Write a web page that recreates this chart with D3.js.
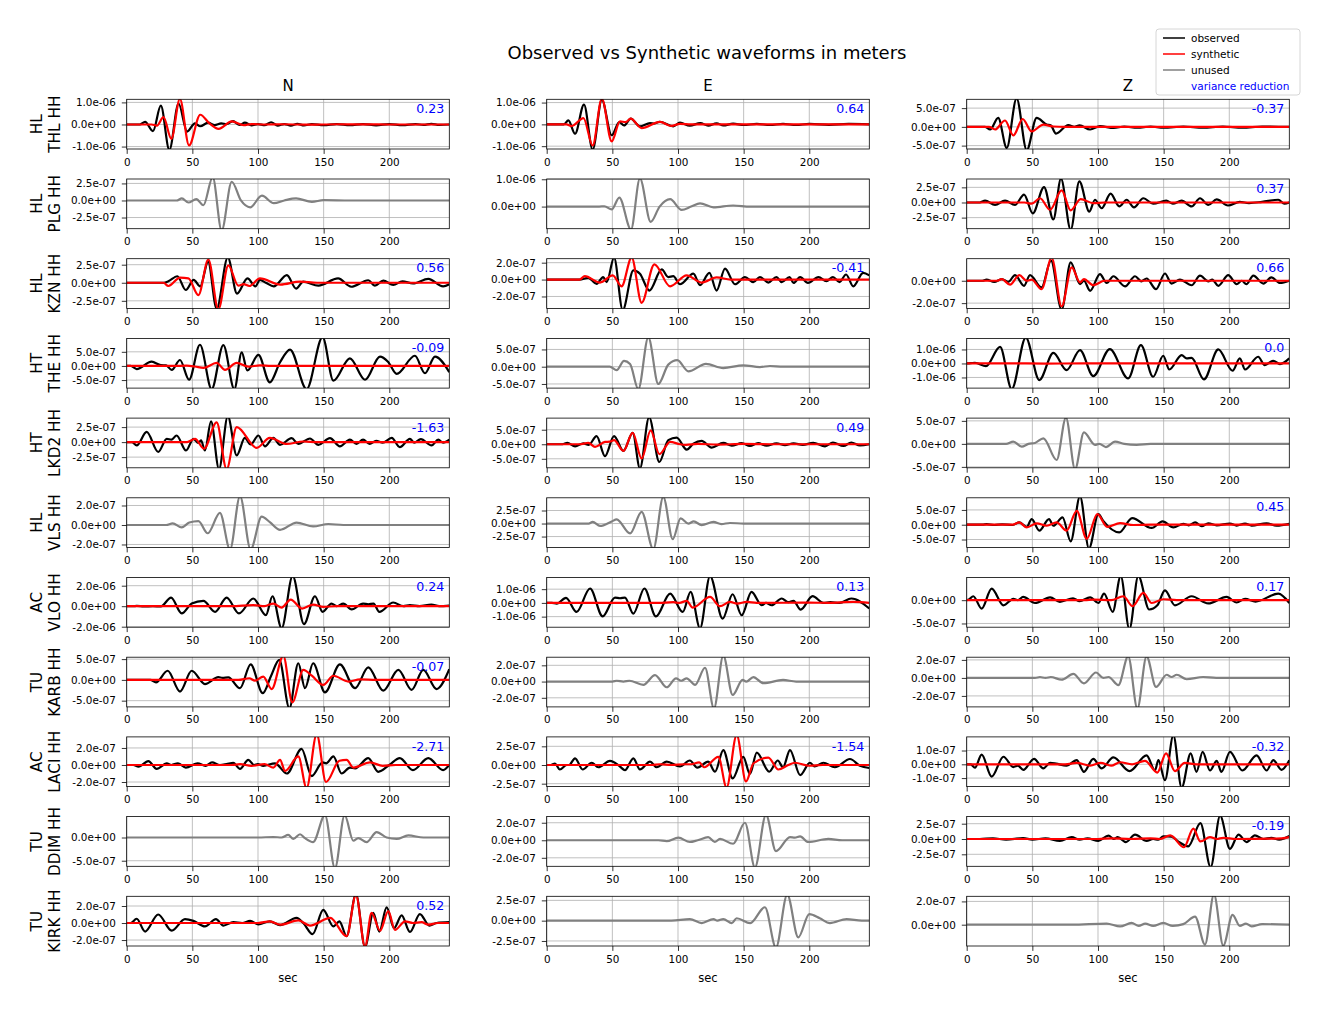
<!DOCTYPE html>
<html><head><meta charset="utf-8">
<script src="https://cdn.jsdelivr.net/npm/d3@7"></script>
<style>body{margin:0;background:#fff}svg{display:block}text{font-family:"DejaVu Sans",sans-serif}</style>
</head><body><svg id="c" width="1329" height="1014"></svg>
<script>
// values are in units of 1e-7 m
const UNIT = 1e-7;
const components = ["N","E","Z"];
const networks = ["HL","HL","HL","HT","HT","HL","AC","TU","AC","TU","TU"];
const stationCodes = ["THL","PLG","KZN","THE","LKD2","VLS","VLO","KARB","LACI","DDIM","KIRK"];
const channel = "HH";
const xTicks = [0,50,100,150,200];
const xMax = 245.7;
const used = [[1,1,1],[0,0,1],[1,1,1],[1,0,1],[1,1,0],[0,0,1],[1,1,1],[1,0,0],[1,1,1],[0,0,1],[1,0,0]];
const varianceReduction = [["0.23","0.64","-0.37"],[null,null,"0.37"],["0.56","-0.41","0.66"],["-0.09",null,"0.0"],["-1.63","0.49",null],[null,null,"0.45"],["0.24","0.13","0.17"],["-0.07",null,null],["-2.71","-1.54","-0.32"],[null,null,"-0.19"],["0.52",null,null]];
const yDomains = [
 [[-11.1,11.4],[-11.3,11.5],[-5.9,7.35]],
 [[-4.14,3.15],[-8.1,10.1],[-4.33,3.88]],
 [[-3.55,3.33],[-3.41,2.47],[-2.47,1.97]],
 [[-7.85,9.75],[-6.2,8.2],[-17.6,17.9]],
 [[-4.28,4.0],[-8.1,9.0],[-5.2,5.6]],
 [[-2.31,2.79],[-4.6,4.94],[-7.7,9.1]],
 [[-20.5,28],[-17.7,18.5],[-5.8,4.87]],
 [[-6.5,5.46],[-3.12,3.0],[-3.22,2.3]],
 [[-2.54,3.3],[-2.89,3.76],[-1.62,1.99]],
 [[-6.2,4.5],[-2.97,2.7],[-4.46,3.66]],
 [[-2.7,3.14],[-3.12,3.0],[-1.83,2.44]]];
const yTicks = [
 [[-10,0,10],[-10,0,10],[-5,0,5]],
 [[-2.5,0,2.5],[0,10],[-2.5,0,2.5]],
 [[-2.5,0,2.5],[-2,0,2],[-2,0]],
 [[-5,0,5],[-5,0,5],[-10,0,10]],
 [[-2.5,0,2.5],[-5,0,5],[-5,0,5]],
 [[-2,0,2],[-2.5,0,2.5],[-5,0,5]],
 [[-20,0,20],[-10,0,10],[-5,0]],
 [[-5,0,5],[-2,0,2],[-2,0,2]],
 [[-2,0,2],[-2.5,0,2.5],[-1,0,1]],
 [[-5,0],[-2,0,2],[-2.5,0,2.5]],
 [[-2,0,2],[-2.5,0,2.5],[0,2]]];

// ---- THL
const obs_THL_N = [[0,0],[10,0],[14,1.2],[20,-3],[26,8.5],[32.5,-11.5],[39.5,9.5],[46,-3.2],[52,0.5],[56,-0.8],[62,0.8],[67,-0.3],[72,0.5],[76,0.2],[81,1.5],[86,-0.2],[90,0.8],[95,-0.4],[100,0.2],[105,-0.3],[110,1],[115,-0.5],[120,0.2],[125,-0.5],[130,0.3],[135,-0.4],[141,0.2],[150,-0.3],[160,0.2],[170,-0.3],[180,0.2],[190,-0.4],[200,0.2],[210,-0.3],[220,0.2],[226,-0.2],[232,0.3],[238,-0.2],[245.7,0]];
const syn_THL_N = [[0,0],[19,0],[23,-0.5],[28,3.3],[34,-6.5],[40.5,11.6],[47.5,-9.5],[56,4.4],[63,0.5],[70,-2],[80,1.4],[89,-0.3],[95,0.2],[105,0],[120,0.1],[140,-0.1],[160,0.1],[200,0],[245.7,0]];
const obs_THL_E = [[0,0],[13,0],[16.5,1.8],[21.6,-4.3],[28.4,9.1],[35,-11.6],[42,11.2],[49.5,-5],[55.3,1],[58.9,-0.5],[64,2.6],[71,-0.9],[78.7,0.6],[82,0.4],[86,1.2],[96.4,-0.9],[101.5,0.8],[109,-0.6],[117,0.6],[123,-0.6],[129.4,0.5],[134.5,-0.5],[142,0.3],[150,-0.3],[160,0.2],[170,-0.3],[180,0.2],[190,-0.3],[200,0.2],[215,-0.2],[230,0.2],[245.7,0]];
const syn_THL_E = [[0,0],[15,0],[19,-0.8],[28,2.9],[35,-9.7],[42,11.8],[49.5,-7.8],[55.8,1.4],[60,1.0],[64,2.6],[72.3,-1.7],[86.3,1.1],[95,-0.7],[101.5,0.2],[110,0],[245.7,0]];
const obs_THL_Z = [[0,0],[14,0],[17.8,-0.7],[24,2.4],[30.5,-5.6],[38,7.6],[45.7,-6.2],[53.3,2.4],[61,0.6],[64,0.4],[68,-1.8],[77.4,0.5],[82,0],[86,0.4],[94,-0.7],[101.5,0.2],[112,-0.3],[120,0.1],[130,-0.2],[140,0.1],[150,-0.2],[165,0.1],[180,-0.2],[195,0.1],[210,-0.2],[225,0.1],[245.7,0]];
const syn_THL_Z = [[0,0],[17,0],[21.6,-0.7],[29.2,1.7],[35.5,-2.3],[42.6,2.1],[49.5,-1.2],[58.4,0.6],[66,0.1],[75,0],[245.7,0]];
// ---- PLG
const gray_PLG_N = [[0,0],[38,0],[42,0.3],[47,-0.3],[53,0.2],[58.4,-0.7],[65.5,3.4],[72.3,-4.4],[80,2.75],[87,0],[94,-1.0],[103,0.7],[112,-0.4],[120,0],[129,0.3],[141,-0.2],[150,0.05],[170,0],[245.7,0]];
const gray_PLG_E = [[0,0],[40,0],[44,0.1],[49.5,-1.0],[55.3,3.3],[64.2,-8.4],[71,10.3],[79.2,-5.6],[86,0],[94,2.7],[102.8,-1.2],[110,0],[116.8,1.2],[127,-0.3],[142,0.4],[155,0],[245.7,0]];
const obs_PLG_Z = [[0,0],[10,0],[14,0.3],[21.6,-0.4],[29.2,0.3],[36.8,-0.4],[43.7,1.3],[50.3,-1.8],[58.9,2.55],[66,-2.8],[71.8,3.95],[79.2,-4.5],[85.8,3.5],[93.4,-1.5],[97.7,0.45],[102.8,-0.95],[109.6,1.45],[116.2,-0.65],[121.8,0.45],[127.4,-0.8],[134.5,0.7],[142,-0.2],[152,0.3],[157,-0.2],[163.7,0.3],[171.3,-0.65],[177.7,0.7],[184,-0.4],[190.4,0.5],[199,-0.5],[208,0.1],[215,-0.1],[225,0.1],[237.3,0.45],[242,-0.2],[245.7,0]];
const syn_PLG_Z = [[0,0],[44,0],[49.5,-0.2],[55.8,0.7],[63.5,-1.2],[72.3,2.0],[79.2,-1.3],[86.8,0.55],[96.4,-0.1],[105,0],[245.7,0]];
// ---- KZN
const obs_KZN_N = [[0,0],[28,0],[31.7,0.2],[38.6,0.9],[45,-1.0],[51,0.4],[56,-0.5],[62,2.9],[68.5,-3.6],[77,3.5],[84,-1.5],[92,0.6],[98,-0.5],[101.5,0.4],[106,0],[112,-0.5],[122,1.05],[129,-0.8],[134.5,0.15],[146,-0.4],[161,0.6],[171,-0.55],[184,0.35],[189,-0.4],[195.4,0.3],[203,-0.3],[210,0.2],[218,-0.1],[229.7,0.55],[241,-0.5],[245.7,-0.2]];
const syn_KZN_N = [[0,0],[28,0],[31.7,-0.45],[40.6,0.7],[47,0.6],[54.6,-1.7],[62.2,3.2],[69.8,-3.7],[77.4,2.4],[85,-0.4],[89,-0.2],[93.4,-0.45],[101.5,0.6],[117,-0.25],[132,0.15],[145,0],[245.7,0]];
const obs_KZN_E = [[0,0],[25,0],[31.7,0.2],[38,-0.5],[43,0.3],[45.7,-0.3],[51.3,2.6],[57.9,-3.6],[66,1.1],[71,0.7],[78.2,-1.3],[87.6,1.2],[92.6,0.3],[96.4,0.4],[101.5,-0.55],[111.7,0.7],[116.8,-0.65],[123.9,0.8],[129.4,-1.3],[135.8,1.3],[143.4,-0.55],[151,0.3],[157.4,-0.3],[162.4,0.3],[168.8,-0.35],[175,0.3],[179,-0.3],[185,0.3],[188,-0.4],[193,0.3],[199,-0.4],[207,0.3],[213,-0.2],[218,0.3],[223,-0.3],[228,0.6],[233.5,-0.8],[241,0.8],[245.7,0.5]];
const syn_KZN_E = [[0,0],[25,0],[29,0.4],[40.6,-0.35],[50.3,0.5],[57,-0.8],[64.7,2.6],[72.3,-2.75],[82,1.8],[94,-0.8],[106.6,0.5],[118,-0.35],[129.4,0.25],[140,0],[245.7,0]];
const obs_KZN_Z = [[0,0],[12,0],[15,0.1],[21,-0.1],[26.7,0.15],[31.7,-0.1],[36.8,0.5],[43.7,-0.45],[48.2,0.5],[57,-0.6],[64.2,1.8],[72.3,-2.6],[79.2,1.65],[86.3,-0.3],[89.3,0],[94,-0.9],[101.5,0.6],[106.6,-0.2],[111.7,0.4],[120.6,-0.5],[128.2,0.4],[133,-0.05],[137,0.2],[144.2,-0.75],[151,0.65],[156,-0.25],[162.4,0.1],[171.3,-0.4],[177.7,0.45],[184,-0.05],[187,0.1],[191.6,-0.45],[199.2,0.5],[205.6,-0.3],[209.5,0],[213,-0.3],[218.3,0.45],[226,-0.25],[232,0.3],[238.6,-0.2],[245.7,0]];
const syn_KZN_Z = [[0,0],[23,0],[26.7,0.15],[33,-0.35],[40.1,0.5],[45.7,0],[49.5,0.1],[57,-0.75],[64.7,2.05],[72.3,-2.3],[80,1.2],[86.3,-0.15],[89.3,0.15],[96.4,-0.4],[105,0],[245.7,0]];
// ---- THE
const obs_THE_N = [[0,0],[3,0],[7.6,-1.1],[19,1.5],[26,0.3],[30,0.2],[34.3,-1.4],[40.6,2.1],[47.5,-4.9],[55.8,7.5],[64.7,-8.2],[73.6,7.4],[82,-8.2],[87.6,4.8],[91.9,-1.6],[100.3,3.9],[109,-5.8],[116.8,1.3],[124.4,5.8],[137,-8.2],[149.2,10.2],[157.4,-5.2],[170,2.7],[181.5,-4.9],[192.9,3.3],[199,1.5],[205.6,-2.8],[219.5,3.6],[227.2,-2.6],[234.8,3.3],[245.7,-2.2]];
const syn_THE_N = [[0,0],[35,0],[45.7,0.1],[52,-0.2],[58.4,-0.7],[68.5,1.05],[74.9,-1.4],[83.8,1.05],[92.6,-0.25],[101.5,0.2],[110,0],[245.7,0]];
const gray_THE_E = [[0,0],[48,0],[53.3,-1],[58.9,1.7],[63.5,0.8],[69.8,-6.5],[77.4,8.5],[85,-5],[92.6,0.6],[99.5,1.9],[107.9,-1.35],[121.3,0.8],[134.5,-0.4],[149.7,0.4],[162.4,-0.1],[170,0.2],[180,0],[245.7,0]];
const obs_THE_Z = [[0,0],[3,0.2],[6.3,0.5],[14.7,-1.9],[25.4,11.9],[34.3,-18.3],[45,18.5],[55.3,-11.9],[66,7.6],[76.1,-4.8],[86.3,9.5],[96.4,-9],[109,10.2],[123,-10.7],[132.7,13.1],[142,-9.5],[149.7,5.5],[154.3,-4.3],[163.7,6],[167.5,3.6],[171.3,4],[180.7,-11.4],[191.6,10],[202.5,-5.2],[208,3.6],[212,-4.3],[222,4.8],[227,-1.2],[233.5,1.9],[238.6,-0.5],[245.7,3.6]];
const syn_THE_Z = [[0,0],[30,0.1],[60,-0.1],[90,0.1],[120,0],[150,0.1],[200,0],[245.7,0]];
// ---- LKD2
const obs_LKD2_N = [[0,0],[4,0],[7.6,-0.55],[15.2,1.7],[24,-1.65],[30.5,0.55],[34,0.4],[38,1.1],[45.2,-1.4],[50.8,0.55],[54.6,-0.15],[56.6,0.3],[59.6,-1.4],[64.2,3.45],[70.3,-4.5],[77,4.3],[83.8,-2.2],[90,0.7],[94.4,-0.4],[100.3,1.1],[105.3,-0.7],[111.7,0.7],[116.8,-0.45],[125.6,0.65],[130.7,-0.3],[139.6,0.6],[146,-0.45],[154.8,0.65],[162.4,-0.7],[170,0.4],[175,-0.3],[180,0.4],[185,-0.3],[190,0.2],[195,-0.1],[201.8,0.7],[208,-0.85],[215.7,0.55],[219,-0.1],[224,0.5],[232.2,-0.55],[237.3,0.4],[241,-0.1],[245.7,0.4]];
const syn_LKD2_N = [[0,0],[46,0],[52,0.55],[58.9,-1.1],[68.5,3.3],[76.1,-4.5],[83.8,2.5],[99,-0.95],[109,0.7],[121.8,-0.3],[134.5,0.1],[145,0],[245.7,0]];
const obs_LKD2_E = [[0,0],[12,0],[15.7,0.45],[21.6,-0.7],[28,0.3],[32,-0.2],[38,2.8],[44.4,-4.1],[51.3,2.8],[58.4,-2.3],[65.5,3.9],[71,-8.3],[78,9.3],[85.8,-6.1],[92.6,1.4],[99,2.3],[106.6,-1.85],[111.7,0.2],[118,1.15],[125.6,-1.15],[134.5,0.45],[140.9,-0.5],[148.5,0.4],[154.8,-0.6],[161,0.4],[167.5,-0.5],[175,0.3],[181.5,-0.3],[188,0.3],[195,-0.2],[203,0.5],[212,-0.7],[218,0.6],[226,-0.6],[232,0.6],[238.6,-0.4],[245.7,0]];
const syn_LKD2_E = [[0,0],[25,0],[31.7,0.45],[36.8,-0.9],[44.4,0.8],[48,0.9],[51.3,1.4],[58.4,-2.3],[65.5,3.9],[72.3,-4.9],[79.2,4.8],[85.8,-3.4],[94,0.8],[101.5,0],[106,-0.2],[115,0.1],[130,-0.1],[150,0.1],[170,0],[245.7,0]];
const gray_LKD2_Z = [[0,0],[30,0],[35.5,0.5],[41.9,-0.6],[47,0],[52,0.2],[58.4,1.2],[68.5,-3.5],[75.6,5.7],[82.5,-5.5],[89.3,2.5],[97.7,-0.2],[101,0],[106,-0.7],[113,0.5],[120,0],[129.4,-0.2],[140,0],[245.7,0]];
// ---- VLS
const gray_VLS_N = [[0,0],[30,0],[35,0.17],[41.9,-0.25],[47.7,0.25],[54.6,0.4],[61.7,-0.85],[71,1.25],[78.7,-2.5],[86.3,2.95],[94.4,-2.5],[102.8,0.85],[109,0.3],[116.8,-0.5],[129.4,0.25],[142,-0.15],[153.6,0.1],[165,0],[245.7,0]];
const gray_VLS_E = [[0,0],[32,0],[35,0.3],[40.6,-0.45],[49.5,0.4],[53.3,0.8],[63.5,-1.9],[72.3,2.25],[81.2,-4.9],[88.8,5.1],[96,-3.0],[102,1.0],[107.9,0],[112,0.4],[118,-0.3],[127,0.3],[133,-0.1],[139.6,0.1],[150,0],[245.7,0]];
const obs_VLS_Z = [[0,0],[12,0],[15.2,0.2],[21,-0.1],[27,0.15],[35,-0.1],[40,0.8],[45.7,-0.7],[49.5,1.9],[55.3,-2.0],[62.7,1.9],[66,-0.35],[73,2.5],[79.2,-5.6],[86.3,9.6],[93.1,-8.0],[100.3,3.6],[104,1.3],[116.2,-2.6],[126,2.25],[140.9,-1.1],[149.2,1.1],[157.4,-0.9],[165,0.3],[169,-0.2],[174,0.8],[179,-0.5],[184,0.5],[190.4,-0.2],[200.5,0.4],[205.6,-0.3],[212,0.4],[217,-0.3],[228.4,0.5],[236,-0.3],[245.7,0.3]];
const syn_VLS_Z = [[0,0],[35,0],[40,0.8],[45.7,-0.9],[53.3,0.45],[61,-0.35],[68.5,0.8],[76.1,-2],[83.8,4.7],[91.4,-4.8],[99.5,3.6],[107,-0.7],[116.8,0.55],[127,-0.1],[140,0],[245.7,0]];
// ---- VLO
const obs_VLO_N = [[0,0],[5,0],[7.6,0.3],[13,-0.3],[20,0],[26,-0.3],[33.8,8.4],[41.9,-7.1],[49.5,2.6],[58.4,5.2],[67.3,-5.5],[76.1,8.4],[85.5,-7.1],[96.4,7.5],[106,-8.8],[111,9.7],[118,-21.5],[126.4,29.5],[135,-17.5],[143.4,9.7],[149.2,-5.5],[156,2.6],[160,0],[165,2.6],[171.3,-3.2],[180,2.6],[184,1.8],[188,2.6],[192.4,-5.5],[203,3.6],[210.7,0],[215.7,1],[223,0],[232,1.5],[238,0],[245.7,0.5]];
const syn_VLO_N = [[0,0],[80,0],[96.4,1],[105,0],[111.7,2.6],[118,-1.3],[124.9,6.5],[133.5,-2.3],[142,1.6],[149.7,-0.6],[160,0],[245.7,0]];
const obs_VLO_E = [[0,0],[4,0],[7.6,-0.5],[14.7,3.7],[22.8,-6.6],[33,10.5],[42.6,-9.8],[52,3.9],[55.8,3.4],[59.6,3.9],[66,-7.8],[74.4,10.5],[83.2,-9.8],[94,6.8],[103.6,-6.6],[109.6,8],[116.8,-18.5],[124.4,19.5],[134,-11.5],[141.6,6.3],[148.5,-9],[156,8],[163.7,-1.7],[167,0],[171.3,-1.7],[179,3.2],[184,0.5],[188,1.5],[193.4,-4.9],[202.5,4.9],[210.7,0],[216,0.5],[223,0],[232,3.2],[245.7,-4.1]];
const syn_VLO_E = [[0,0],[85,0],[96.4,0.5],[101,0],[106.6,1.5],[111.2,-3.4],[124.4,4.4],[131.9,-2.4],[139.6,0.7],[145,-0.5],[152.3,0.7],[160,0],[200,0.2],[215,0],[233.5,0.7],[245.7,0]];
const obs_VLO_Z = [[0,0],[2,0.2],[5,0.85],[11.4,-1.8],[19,2.5],[28,-1.1],[35.5,0.3],[39,0],[43,0.7],[52,-0.6],[63.5,0.6],[71,-0.35],[81,0.4],[86,-0.2],[94,0.6],[100.3,-0.6],[104.6,1.4],[111.2,-2.5],[117.3,5.2],[123.9,-6.2],[130.7,5.2],[139,-2.0],[145.2,-1.1],[151,2.1],[158.6,-1.1],[171.3,0.85],[184,-0.7],[198,0.7],[205.6,-0.5],[212,0.3],[220,-0.3],[237.3,1.4],[245.7,-0.6]];
const syn_VLO_Z = [[0,0],[90,0],[96.4,0.1],[110,0],[119.3,0.85],[126.4,-1.3],[134.5,1.55],[140.9,-0.6],[149.7,0.2],[160,0],[245.7,0]];
// ---- KARB
const obs_KARB_N = [[0,0],[18,0],[22.3,-0.6],[31.2,2.2],[40.6,-2.8],[49.5,2.2],[59.6,-1.0],[69.8,0.65],[73,0.5],[77.4,0.6],[86.3,-2.0],[94.4,3.75],[103.6,-3.2],[110,1],[116.2,4.8],[123.9,-6.8],[130.7,4],[135.8,-2],[142,4],[151,-3.0],[162.4,3.75],[173.9,-2.0],[184,3.0],[195.4,-2.6],[206.9,2.4],[217,-2.4],[225.9,2.4],[236,-2.2],[245.7,2.6]];
const syn_KARB_N = [[0,0],[85,0],[93.4,0.4],[97.7,-0.2],[104,0.8],[110.4,-2.2],[119.3,5.8],[126.1,-5.4],[134.5,2.4],[141,1.0],[149.7,-1.2],[157.4,1],[168.8,-0.4],[177.7,0.1],[190,0],[245.7,0]];
const gray_KARB_E = [[0,0],[50,0],[53.3,0.1],[58.4,0],[63,0.1],[73.6,-0.4],[82.5,0.8],[91.4,-0.7],[98.5,0.4],[102.5,0.1],[106.6,0.4],[113,-0.4],[120.6,1.7],[127.4,-3.3],[134.5,3.2],[141.6,-1.65],[149.2,0.2],[152,0],[157.4,0.55],[165,-0.2],[180,0.2],[190,0],[245.7,0]];
const gray_KARB_Z = [[0,0],[52,0],[55.8,0.1],[60,0],[64,0.1],[72.3,-0.2],[81.2,0.45],[89.3,-0.6],[98.5,0.6],[104,0],[108,0.1],[115.5,-0.8],[123,2.4],[130,-3.4],[137,2.4],[144.2,-1.0],[152.3,0.35],[156,0.1],[160,0.35],[167.5,-0.15],[180,0.1],[190,0],[245.7,0]];
// ---- LACI
const obs_LACI_N = [[0,0],[5,0],[9,-0.2],[16.5,0.45],[22.8,-0.45],[30.5,0.2],[34,0],[39,0.2],[45,-0.3],[54,0.2],[60,-0.1],[65,0.3],[71,0],[76,0.1],[81.2,0.25],[86.3,-0.45],[92.6,0.6],[97,0],[100,0.1],[104,-0.1],[113,0.2],[122,-1.0],[133.2,1.9],[140.9,-1.3],[149.2,0.3],[152,0.2],[157.4,1.0],[163.7,-1.0],[170,-0.3],[174,-0.4],[184,0.8],[191.6,-0.8],[200,0],[208,0.8],[218,-0.6],[229.7,0.8],[241,-0.6],[245.7,0]];
const syn_LACI_N = [[0,0],[80,0],[86.3,0.1],[95,-0.1],[105,0.1],[111.7,-0.3],[116.8,0.6],[120.6,-0.7],[130.7,1.0],[137,-2.7],[144.7,3.6],[151.8,-2.0],[162,0.5],[167.5,0.6],[172.6,-0.3],[185.3,0.3],[195,-0.1],[205,0],[245.7,0]];
const obs_LACI_E = [[0,0],[3,0],[6.3,0.2],[10,-0.6],[15.2,0],[17,0],[21.6,0.9],[27.4,-0.6],[34.3,0.3],[39.3,-0.3],[48.2,0.55],[55.8,-0.2],[59.6,-0.7],[66,0.9],[71,-0.6],[78.7,0.45],[83.8,-0.3],[91.4,0.45],[101.5,-0.2],[109,0.6],[114.7,-0.35],[123,0.45],[128.2,-0.9],[134.5,2.0],[141.6,-1.8],[149.7,1.1],[154.8,-1.2],[160,1.65],[169.5,-0.9],[176,0.6],[180,-0.3],[185.3,2.0],[193,-1.35],[200.5,0.3],[204,-0.2],[210.7,0.3],[219.5,-0.3],[231,0.8],[238.6,-0.1],[245.7,-0.4]];
const syn_LACI_E = [[0,0],[80,0],[86.3,0.1],[95,0],[105,0.1],[110,0.1],[116.2,0.35],[120,-0.3],[130.7,1.1],[137,-3.0],[144.7,4.0],[151.8,-2.2],[157.4,0.2],[168.8,1.0],[176.4,-0.6],[184,0],[189,0.3],[200,-0.1],[210,0],[245.7,0]];
const obs_LACI_Z = [[0,0],[3,0],[6.3,-0.25],[11.4,0.7],[19,-0.9],[28,0.55],[35.5,-0.2],[39,-0.1],[43.1,-0.4],[51.3,0.4],[58.4,-0.3],[63.5,0.1],[68,0.05],[76,-0.1],[83.8,0.3],[89.3,-0.55],[96.4,0.4],[102.8,-0.3],[111.7,0.5],[124,-0.5],[137,0.65],[143.4,-0.45],[146,0.3],[151,-1.15],[157.4,2.1],[163.7,-1.7],[170.6,0.8],[175,-0.55],[179.7,0.9],[185.3,-0.45],[190.4,0.25],[194,-0.55],[200.5,0.9],[210,-0.45],[220.8,0.65],[228.4,-0.45],[233.5,0.3],[239.8,-0.4],[245.7,0.3]];
const syn_LACI_Z = [[0,0],[75,0],[83.8,0.1],[94,-0.1],[102,0.1],[110,-0.1],[116.8,0.15],[126,0],[135.8,0.25],[145.2,-0.6],[151.8,0.8],[158.6,-0.5],[166,0.1],[175,0],[245.7,0]];
// ---- DDIM
const gray_DDIM_N = [[0,0],[100,0],[111.7,0.1],[118,0],[123,0.55],[127,-0.3],[132,0.7],[135.8,-0.15],[142,-1.0],[151,4.8],[158.6,-6.6],[166,4.8],[172.6,-0.7],[176.4,-0.15],[182.7,-1.0],[190.4,1.15],[198,0],[205.6,-0.3],[214.5,0.45],[226,0],[245.7,0]];
const gray_DDIM_E = [[0,0],[85,0],[91.4,-0.1],[100.3,0.3],[109,-0.2],[115,0],[123,0.35],[128,-0.2],[132,0.15],[142,-0.4],[151,2.0],[158.6,-3.1],[167,2.9],[174.6,-1.25],[185.3,0.35],[189,0.3],[193,0.45],[199.2,-0.2],[214.5,0.15],[225,0],[245.7,0]];
const obs_DDIM_Z = [[0,0],[10,0],[20,0.1],[30,-0.1],[43,0.15],[50,-0.1],[60,0.1],[71,-0.3],[80,0.3],[86,-0.1],[92,0.1],[100.3,-0.3],[108,0.55],[112,0],[115,0.3],[121.3,-0.5],[128.2,0.7],[137,-0.3],[142,0],[146,-0.1],[149.7,0.45],[156,0.4],[161,-0.4],[168.8,-1.2],[178,2.6],[185.8,-4.6],[193,3.8],[200.5,-1.6],[207,0.7],[213.2,-0.5],[219.5,0.6],[226,0],[232,0.2],[238,-0.1],[245.7,0.5]];
const syn_DDIM_Z = [[0,0],[100,0],[110,0.1],[125,0],[140,0.1],[147,0],[155,0.6],[165.5,-1.35],[172.6,1.7],[178,-0.4],[185.3,0.3],[190.4,0],[195.4,0.2],[205,0],[240,0.1],[245.7,0.3]];
// ---- KIRK
const obs_KIRK_N = [[0,0],[3,0],[7.6,0.5],[14,-1.0],[24,1.0],[34.3,-0.9],[44.4,0.45],[50.8,0.25],[59.6,-0.4],[68,0.45],[73.6,-0.3],[81.2,0.1],[88,0],[94,0.25],[100.3,-0.15],[109,0.2],[116.8,-0.25],[129.4,0.6],[134.5,0],[141.6,-1.3],[149.7,1.55],[157.4,-0.4],[162,0.2],[167.5,-1.55],[174.6,3.4],[181.5,-2.8],[187.8,1.2],[192.4,-1.0],[198,1.85],[203.6,-0.6],[209.4,0.9],[215.7,-1.05],[223.3,1.05],[230.5,-0.3],[236,0],[245.7,0.1]];
const syn_KIRK_N = [[0,0],[100,0],[109,0.2],[116.8,-0.2],[130.7,0.3],[139.6,-0.3],[155,0.6],[167.5,-1.55],[174.6,3.3],[181.5,-2.8],[186.5,1.2],[193,-0.9],[199.2,1.4],[204.3,-0.8],[212,0.2],[218,0],[224.6,0.1],[229.7,-0.2],[237,0],[245.7,0]];
const gray_KIRK_E = [[0,0],[95,0],[109,0.2],[118,-0.3],[127,0.2],[130,0],[134.5,0.2],[141,-0.3],[144.7,0.3],[155,-0.3],[166.2,1.65],[174.6,-3.3],[183.2,3.2],[191.6,-2.05],[200,0.8],[208,0.3],[215.7,-0.3],[228.4,0.2],[240,0],[245.7,0]];
const gray_KIRK_Z = [[0,0],[80,0],[106.6,0.1],[116.8,-0.15],[125.6,0.15],[131,-0.1],[136,0.1],[142,-0.1],[149.7,0.15],[157,-0.1],[165,0.05],[173.9,0.7],[181.5,-1.7],[188.3,2.6],[195.4,-1.8],[202.5,0.85],[208,-0.1],[212.7,0.1],[217,-0.15],[225,0.05],[245.7,0]];

const waveforms = {
 THL_N:[obs_THL_N,syn_THL_N], THL_E:[obs_THL_E,syn_THL_E], THL_Z:[obs_THL_Z,syn_THL_Z],
 PLG_N:[gray_PLG_N], PLG_E:[gray_PLG_E], PLG_Z:[obs_PLG_Z,syn_PLG_Z],
 KZN_N:[obs_KZN_N,syn_KZN_N], KZN_E:[obs_KZN_E,syn_KZN_E], KZN_Z:[obs_KZN_Z,syn_KZN_Z],
 THE_N:[obs_THE_N,syn_THE_N], THE_E:[gray_THE_E], THE_Z:[obs_THE_Z,syn_THE_Z],
 LKD2_N:[obs_LKD2_N,syn_LKD2_N], LKD2_E:[obs_LKD2_E,syn_LKD2_E], LKD2_Z:[gray_LKD2_Z],
 VLS_N:[gray_VLS_N], VLS_E:[gray_VLS_E], VLS_Z:[obs_VLS_Z,syn_VLS_Z],
 VLO_N:[obs_VLO_N,syn_VLO_N], VLO_E:[obs_VLO_E,syn_VLO_E], VLO_Z:[obs_VLO_Z,syn_VLO_Z],
 KARB_N:[obs_KARB_N,syn_KARB_N], KARB_E:[gray_KARB_E], KARB_Z:[gray_KARB_Z],
 LACI_N:[obs_LACI_N,syn_LACI_N], LACI_E:[obs_LACI_E,syn_LACI_E], LACI_Z:[obs_LACI_Z,syn_LACI_Z],
 DDIM_N:[gray_DDIM_N], DDIM_E:[gray_DDIM_E], DDIM_Z:[obs_DDIM_Z,syn_DDIM_Z],
 KIRK_N:[obs_KIRK_N,syn_KIRK_N], KIRK_E:[gray_KIRK_E], KIRK_Z:[gray_KIRK_Z]
};
const legendLabels = ["observed","synthetic","unused","variance reduction"];
const legendColors = ["black","red","gray",null];

// ---- layout
const left0 = 126.7, colStep = 420, panelW = 322.6;
const top0 = 99.3, rowStep = 79.7, panelH = 49.7;
const svg = d3.select("#c");
const fmtExp = v => Math.abs(v) < 1e-20 ? "0.0e+00" :
  v.toExponential(1).replace(/e([+-])(\d+)$/, (m, s, d) => "e" + s + d.padStart(2, "0"));
const x = d3.scaleLinear().domain([0, xMax]).range([0, panelW]);

svg.append("text").attr("x", 707).attr("y", 59).attr("text-anchor", "middle")
  .attr("font-size", 18).text("Observed vs Synthetic waveforms in meters");
components.forEach((c, ci) => {
  svg.append("text").attr("x", left0 + ci * colStep + panelW / 2).attr("y", 91)
    .attr("text-anchor", "middle").attr("font-size", 15).text(c);
  svg.append("text").attr("x", left0 + ci * colStep + panelW / 2).attr("y", 982)
    .attr("text-anchor", "middle").attr("font-size", 11.5).text("sec");
});

stationCodes.forEach((st, r) => {
  const cy = top0 + r * rowStep + panelH / 2;
  svg.append("text").attr("transform", `translate(42,${cy}) rotate(-90)`)
    .attr("text-anchor", "middle").attr("font-size", 15.3).text(networks[r]);
  svg.append("text").attr("transform", `translate(60,${cy}) rotate(-90)`)
    .attr("text-anchor", "middle").attr("font-size", 15.3).text(st + " " + channel);

  components.forEach((comp, c) => {
    const g = svg.append("g").attr("transform", `translate(${left0 + c * colStep},${top0 + r * rowStep})`);
    const y = d3.scaleLinear().domain(yDomains[r][c].map(v => v * UNIT)).range([panelH, 0]);
    const ticksM = yTicks[r][c].map(v => v * UNIT);
    g.append("g").selectAll("line").data(xTicks).join("line")
      .attr("x1", d => x(d)).attr("x2", d => x(d)).attr("y1", 0).attr("y2", panelH)
      .attr("stroke", "#b0b0b0").attr("stroke-width", 0.8);
    g.append("g").selectAll("line").data(ticksM).join("line")
      .attr("y1", d => y(d)).attr("y2", d => y(d)).attr("x1", 0).attr("x2", panelW)
      .attr("stroke", "#b0b0b0").attr("stroke-width", 0.8);
    const id = `clip${r}_${c}`;
    g.append("clipPath").attr("id", id).append("rect").attr("width", panelW).attr("height", panelH);
    const line = d3.line().x(d => x(d[0])).y(d => y(d[1] * UNIT)).curve(d3.curveMonotoneX);
    const lg = g.append("g").attr("clip-path", `url(#${id})`);
    const w = waveforms[st + "_" + comp];
    const colors = used[r][c] ? ["black", "red"] : ["gray"];
    w.forEach((series, k) => {
      lg.append("path").attr("d", line(series)).attr("fill", "none")
        .attr("stroke", colors[k]).attr("stroke-width", 2.2).attr("stroke-linejoin", "round");
    });
    const xa = g.append("g").attr("transform", `translate(0,${panelH})`)
      .call(d3.axisBottom(x).tickValues(xTicks).tickSize(4.9).tickPadding(4.3).tickFormat(d3.format("d")));
    const ya = g.append("g")
      .call(d3.axisLeft(y).tickValues(ticksM).tickSize(4.9).tickPadding(6).tickFormat(fmtExp));
    [xa, ya].forEach(a => {
      a.select(".domain").remove();
      a.selectAll("text").attr("font-size", 10.4).attr("fill", "#000").attr("font-family", "DejaVu Sans");
      a.selectAll(".tick line").attr("stroke", "#000").attr("stroke-width", 0.8);
    });
    g.append("rect").attr("width", panelW).attr("height", panelH)
      .attr("fill", "none").attr("stroke", "#000").attr("stroke-width", 0.8);
    const vr = varianceReduction[r][c];
    if (vr !== null) {
      g.append("text").attr("x", panelW - 5).attr("y", 13.7).attr("text-anchor", "end")
        .attr("font-size", 12.6).attr("fill", "blue").text(vr);
    }
  });
});

const lgd = svg.append("g").attr("transform", "translate(1156,29)");
lgd.append("rect").attr("width", 144).attr("height", 66).attr("rx", 3)
  .attr("fill", "white").attr("fill-opacity", 0.8).attr("stroke", "#cccccc").attr("stroke-width", 0.8);
legendLabels.forEach((lab, i) => {
  const yy = 9 + i * 16;
  if (legendColors[i]) {
    lgd.append("line").attr("x1", 7).attr("x2", 29).attr("y1", yy).attr("y2", yy)
      .attr("stroke", legendColors[i]).attr("stroke-width", 1.5);
  }
  lgd.append("text").attr("x", 35).attr("y", yy + 3.8).attr("font-size", 10.5)
    .attr("fill", legendColors[i] ? "#000" : "blue").text(lab);
});
</script></body></html>
